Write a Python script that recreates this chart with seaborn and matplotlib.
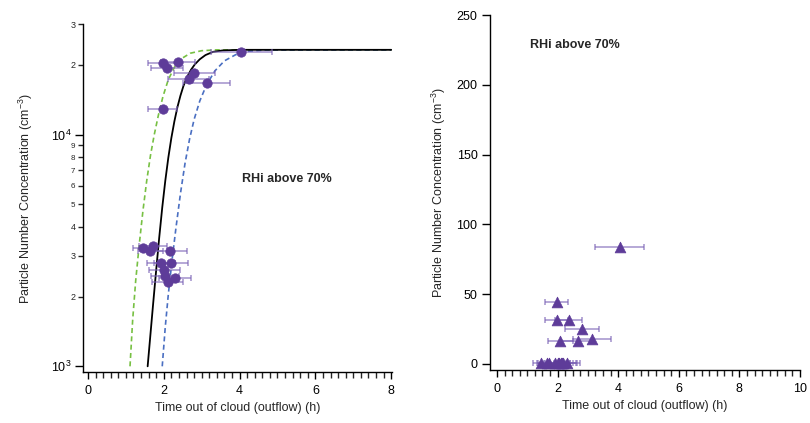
import numpy as np
import pandas as pd
import matplotlib
matplotlib.use("Agg")
import matplotlib.pyplot as plt
import seaborn as sns
from matplotlib.ticker import FixedLocator, FixedFormatter, MultipleLocator

# ---------------- data ----------------
time_h = [1.97, 2.37, 2.09, 2.81, 2.66, 3.13, 1.97, 4.05,
          1.46, 1.72, 1.65, 2.16, 1.92, 2.18, 2.01, 2.04, 2.30, 2.10]
time_err = [0.38, 0.45, 0.42, 0.55, 0.54, 0.62, 0.39, 0.80,
            0.28, 0.36, 0.32, 0.44, 0.37, 0.45, 0.41, 0.37, 0.43, 0.40]
conc_left = [20400, 20500, 19440, 18490, 17420, 16640, 12840, 22800,
             3245, 3295, 3150, 3140, 2790, 2790, 2600, 2455, 2404, 2310]
conc_right = [44.5, 31.4, 16.6, 25.0, 16.6, 17.6, 31.4, 83.8,
              0.5, 0.6, 0.4, 0.7, 0.5, 0.6, 0.4, 0.5, 0.6, 0.5]

black_t = [1.575, 1.65, 1.72, 1.80, 1.88, 1.96, 2.04, 2.12, 2.20, 2.28, 2.36, 2.44, 2.52,
           2.62, 2.72, 2.82, 2.95, 3.10, 3.30, 3.55, 4.0, 8.0]
black_n = [1000, 1380, 1862, 2600, 3589, 4842, 6310, 7943, 9660, 11400, 13120, 14720, 16220,
           17780, 19050, 20090, 21130, 22030, 22750, 23070, 23210, 23210]
green_t = [1.11, 1.18, 1.26, 1.35, 1.45, 1.55, 1.65, 1.75, 1.86, 1.98, 2.12, 2.28, 2.46,
           2.70, 3.00, 3.40, 8.0]
green_n = [1000, 1585, 2344, 3311, 4677, 6310, 8128, 10000, 12160, 14620, 17260, 19500, 21230,
           22440, 23010, 23200, 23210]
blue_t = [1.96, 2.04, 2.12, 2.22, 2.32, 2.44, 2.56, 2.68, 2.80, 2.95, 3.13, 3.35, 3.60,
          3.90, 4.25, 4.70, 8.0]
blue_n = [1000, 1479, 2042, 2884, 3936, 5559, 7499, 9550, 11610, 13960, 16410, 18840, 20800,
          22130, 22910, 23170, 23210]

left_minor_vals = [2000, 3000, 4000, 5000, 6000, 7000, 8000, 9000, 20000, 30000]
left_minor_labels = ["2", "3", "4", "5", "6", "7", "8", "9", "2", "3"]
left_major_vals = [1000, 10000]
left_major_labels = ["$10^3$", "$10^4$"]

label_text = "RHi above 70%"
xlabel = "Time out of cloud (outflow) (h)"
ylabel = "Particle Number Concentration (cm$^{-3}$)"

# ---------------- style ----------------
sns.set_theme(style="ticks")
plt.rcParams['font.family'] = ['Liberation Sans', 'DejaVu Sans']
plt.rcParams['mathtext.fontset'] = 'custom'
plt.rcParams['mathtext.rm'] = 'Liberation Sans'
plt.rcParams['mathtext.it'] = 'Liberation Sans'

purple = "#5e3c99"
err_col = "#7b62b6"

df = pd.DataFrame({"t": time_h, "terr": time_err, "nl": conc_left, "nr": conc_right})

fig = plt.figure(figsize=(8.10, 4.23), dpi=100)
ax1 = fig.add_axes([83/810, 1-372/423, (392-83)/810, (372-24)/423])
ax2 = fig.add_axes([490/810, 1-370/423, (800-490)/810, (370-15)/423])

# ----- left panel -----
ax1.set_yscale("log")
sns.lineplot(x=green_t, y=green_n, ax=ax1, color="#77c043", lw=1.2, linestyle=(0, (3, 2)), sort=False)
sns.lineplot(x=blue_t, y=blue_n, ax=ax1, color="#4a6fc2", lw=1.2, linestyle=(0, (3, 2)), sort=False)
sns.lineplot(x=black_t, y=black_n, ax=ax1, color="black", lw=1.3, sort=False)
ax1.errorbar(df["t"], df["nl"], xerr=df["terr"], fmt="none", ecolor=err_col, alpha=0.7,
             elinewidth=1.1, capsize=2.5, capthick=1.1)
sns.scatterplot(data=df, x="t", y="nl", ax=ax1, color=purple, s=46, edgecolor=purple,
                linewidth=0.5, zorder=5)
ax1.set_xlim(-0.13, 8.02)
ax1.set_ylim(945, 30000)
ax1.yaxis.set_major_locator(FixedLocator(left_major_vals))
ax1.yaxis.set_major_formatter(FixedFormatter(left_major_labels))
ax1.yaxis.set_minor_locator(FixedLocator(left_minor_vals))
ax1.yaxis.set_minor_formatter(FixedFormatter(left_minor_labels))
ax1.tick_params(axis="y", which="major", labelsize=9, length=6, width=1, direction="out", pad=2)
ax1.tick_params(axis="y", which="minor", labelsize=6.5, length=3.5, width=1, direction="out", pad=2)
ax1.xaxis.set_major_locator(MultipleLocator(2))
ax1.xaxis.set_minor_locator(MultipleLocator(0.2))
ax1.tick_params(axis="x", which="major", labelsize=9, length=5, width=1, direction="out", pad=4)
ax1.tick_params(axis="x", which="minor", length=4, width=1, direction="out")
ax1.text(4.06, 6430, label_text, fontsize=9, fontweight="bold", ha="left", va="center")
ax1.set_xlabel(xlabel, fontsize=9, labelpad=4)
ax1.set_ylabel(ylabel, fontsize=9, labelpad=12)

# shrink labels of intermediate minor ticks (5-9) slightly
for val, lab in zip(left_minor_vals, ax1.yaxis.get_ticklabels(minor=True)):
    if 5000 <= val <= 9000:
        lab.set_fontsize(5.8)

# ----- right panel -----
ax2.errorbar(df["t"], df["nr"], xerr=df["terr"], fmt="none", ecolor=err_col, alpha=0.7,
             elinewidth=1.1, capsize=2.5, capthick=1.1)
sns.scatterplot(data=df, x="t", y="nr", ax=ax2, color=purple, marker="^", s=60,
                edgecolor=purple, linewidth=0.5, zorder=5)
ax2.set_xlim(-0.23, 10.0)
ax2.set_ylim(-4.3, 250)
ax2.yaxis.set_major_locator(MultipleLocator(50))
ax2.xaxis.set_major_locator(MultipleLocator(2))
ax2.xaxis.set_minor_locator(MultipleLocator(0.25))
ax2.tick_params(axis="y", which="major", labelsize=9, length=6, width=1, direction="out", pad=3)
ax2.tick_params(axis="x", which="major", labelsize=9, length=5, width=1, direction="out", pad=4)
ax2.tick_params(axis="x", which="minor", length=4, width=1, direction="out")
ax2.text(1.09, 228.6, label_text, fontsize=9, fontweight="bold", ha="left", va="center")
ax2.set_xlabel(xlabel, fontsize=9, labelpad=4)
ax2.set_ylabel(ylabel, fontsize=9, labelpad=6)

for ax in (ax1, ax2):
    sns.despine(ax=ax)
    for s in ("left", "bottom"):
        ax.spines[s].set_linewidth(1.0)
        ax.spines[s].set_color("black")
    ax.tick_params(colors="black")

fig.savefig("out.png", dpi=100)
